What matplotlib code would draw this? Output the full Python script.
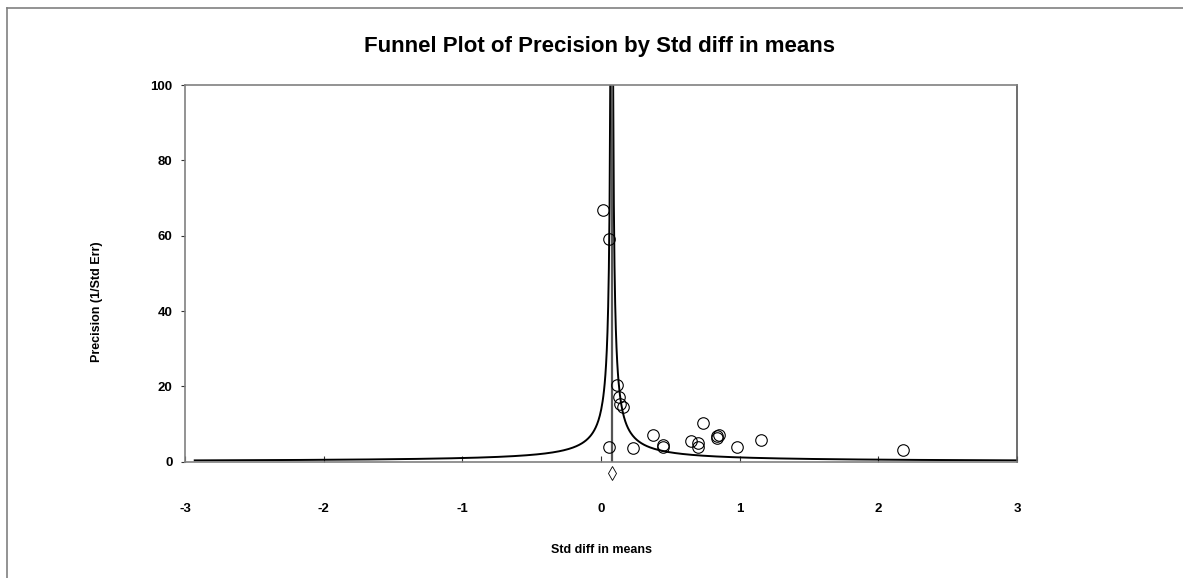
import matplotlib
matplotlib.use("Agg")
import matplotlib.pyplot as plt
from matplotlib.lines import Line2D
import numpy as np

plt.rcParams['font.family'] = ['Liberation Sans', 'DejaVu Sans']
plt.rcParams['axes.unicode_minus'] = False

# study effects (Std diff in means) and precision (1/Std Err)
std_diff = [0.012, 0.055, 0.118, 0.128, 0.137, 0.156, 0.055, 0.229, 0.375,
            0.445, 0.450, 0.647, 0.700, 0.700, 0.733, 0.835, 0.839, 0.849,
            0.983, 1.156, 2.175]
precision = [66.8, 59.0, 20.3, 17.1, 15.3, 14.6, 4.0, 3.7, 7.0,
             4.4, 4.0, 5.5, 5.0, 4.0, 10.4, 6.2, 6.8, 7.1,
             3.9, 5.7, 3.2]

pooled = 0.077      # combined estimate (vertical line / diamond)
z_limit = 1.05      # funnel width constant
x_ticks = [-3, -2, -1, 0, 1, 2, 3]
y_ticks = [0, 20, 40, 60, 80, 100]

fig = plt.figure(figsize=(11.83, 5.78), dpi=100)
ax = fig.add_axes([0.1564, 0.2012, 0.7033, 0.6517])

# funnel limits around the pooled estimate
left_x = np.linspace(-2.93, pooled - z_limit / 100, 600)
right_x = np.linspace(pooled + z_limit / 100, 3.0, 600)
ax.plot(left_x, z_limit / (pooled - left_x), color='black', lw=1.4)
ax.plot(right_x, z_limit / (right_x - pooled), color='black', lw=1.4)
ax.axvline(pooled, color='#555555', lw=1.6)

ax.plot(std_diff, precision, linestyle='none', marker='o', markersize=8.3,
        markerfacecolor='none', markeredgecolor='black', markeredgewidth=0.8)
ax.plot([pooled], [-2.9], marker='d', markersize=7, markerfacecolor='white',
        markeredgecolor='black', markeredgewidth=0.6, clip_on=False)

ax.set_xlim(-3, 3)
ax.set_ylim(0, 100)
ax.set_xticks(x_ticks)
ax.set_yticks(y_ticks)
ax.tick_params(axis='x', direction='in', length=4, pad=30, labelsize=9.5, color='#333333')
ax.tick_params(axis='y', direction='out', length=3, pad=6, labelsize=9.5, color='#333333')
for lab in ax.get_xticklabels() + ax.get_yticklabels():
    lab.set_fontweight('bold')

for side in ['left', 'bottom', 'top']:
    ax.spines[side].set_color('#808080')
    ax.spines[side].set_linewidth(1.2)
ax.spines['right'].set_color('#555555')
ax.spines['right'].set_linewidth(1.2)

ax.set_xlabel('Std diff in means', fontsize=9, fontweight='bold')
ax.set_ylabel('Precision (1/Std Err)', fontsize=9, fontweight='bold')
ax.xaxis.set_label_coords(0.5, -0.219)
ax.yaxis.set_label_coords(-0.0986, 0.424)

fig.text(0.507, 0.919, 'Funnel Plot of Precision by Std diff in means',
         ha='center', va='center', fontsize=16, fontweight='bold')

# outer frame (left and top edges visible)
fig.add_artist(Line2D([0.0059, 0.0059], [0.0, 0.986], color='#808080', lw=1.2))
fig.add_artist(Line2D([0.0059, 1.0], [0.986, 0.986], color='#808080', lw=1.2))

plt.savefig('out.png', dpi=100)
